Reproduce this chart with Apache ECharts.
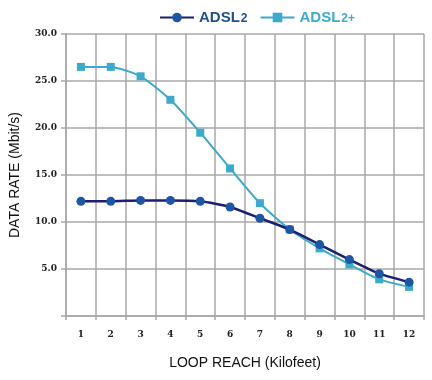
<!DOCTYPE html>
<html><head><meta charset="utf-8">
<script src="https://cdn.jsdelivr.net/npm/echarts@6/dist/echarts.min.js"></script>
<style>html,body{margin:0;padding:0;background:#fff}#c{width:432px;height:380px}</style>
</head><body><div id="c"></div>
<script>
const categories = ['1','2','3','4','5','6','7','8','9','10','11','12'];
const adsl2 = [12.2, 12.2, 12.3, 12.3, 12.2, 11.6, 10.4, 9.2, 7.6, 6.0, 4.5, 3.6];
const adsl2plus = [26.5, 26.5, 25.5, 23.0, 19.5, 15.7, 12.0, 9.2, 7.2, 5.5, 3.9, 3.1];
const yTicks = [0, 5, 10, 15, 20, 25, 30];

const gridColor = '#a8a8a8';
const chart = echarts.init(document.getElementById('c'));
chart.setOption({
  animation: false,
  legend: {
    top: 5, left: 154, itemWidth: 34, itemHeight: 12, itemGap: 12,
    textStyle: { fontFamily: 'Liberation Sans', fontWeight: 'bold', fontSize: 15 },
    formatter: n => n === 'ADSL2' ? 'ADSL{s|2}' : 'ADSL{s|2+}',
    data: [
      { name: 'ADSL2', textStyle: { color: '#1d4f94', rich: { s: { fontSize: 12, fontWeight: 'bold', color: '#1d4f94', padding: [2, 0, 0, 1] } } } },
      { name: 'ADSL2+', textStyle: { color: '#3aaed0', rich: { s: { fontSize: 12, fontWeight: 'bold', color: '#3aaed0', padding: [2, 0, 0, 1] } } } }
    ]
  },
  grid: { left: 64, right: 8, top: 34, bottom: 64 },
  xAxis: {
    type: 'category', data: categories, boundaryGap: true,
    name: 'LOOP REACH (Kilofeet)', nameLocation: 'middle', nameGap: 40,
    nameTextStyle: { fontFamily: 'Liberation Sans', fontSize: 14, color: '#111' },
    axisLine: { lineStyle: { color: gridColor, width: 1.5 } },
    axisTick: { show: true, length: 4, lineStyle: { color: gridColor, width: 1.5 } },
    axisLabel: { margin: 14, fontFamily: 'DejaVu Serif', fontWeight: 'bold', fontSize: 9, color: '#222' },
    splitLine: { show: true, lineStyle: { color: gridColor, width: 1.5 } }
  },
  yAxis: {
    type: 'value', min: 0, max: 30, interval: 5,
    name: 'DATA RATE (Mbit/s)', nameLocation: 'middle', nameGap: 44,
    nameTextStyle: { fontFamily: 'Liberation Sans', fontSize: 14, color: '#111' },
    axisLine: { show: true, lineStyle: { color: gridColor, width: 1.5 } },
    axisTick: { show: true, length: 5, lineStyle: { color: gridColor, width: 1.5 } },
    axisLabel: { margin: 9, fontFamily: 'DejaVu Serif', fontWeight: 'bold', fontSize: 9, color: '#222',
      formatter: v => (v === 0 ? '' : v.toFixed(1)) },
    splitLine: { show: true, lineStyle: { color: gridColor, width: 1.5 } }
  },
  series: [
    { name: 'ADSL2', type: 'line', data: adsl2, smooth: 0.2,
      symbol: 'circle', symbolSize: 9,
      lineStyle: { color: '#1c1f72', width: 2.5 },
      itemStyle: { color: '#1d56a4' }, z: 3 },
    { name: 'ADSL2+', type: 'line', data: adsl2plus, smooth: 0.2,
      symbol: 'rect', symbolSize: 8,
      lineStyle: { color: '#3aaacd', width: 2 },
      itemStyle: { color: '#3aaacd' }, z: 2 }
  ]
});
</script></body></html>
